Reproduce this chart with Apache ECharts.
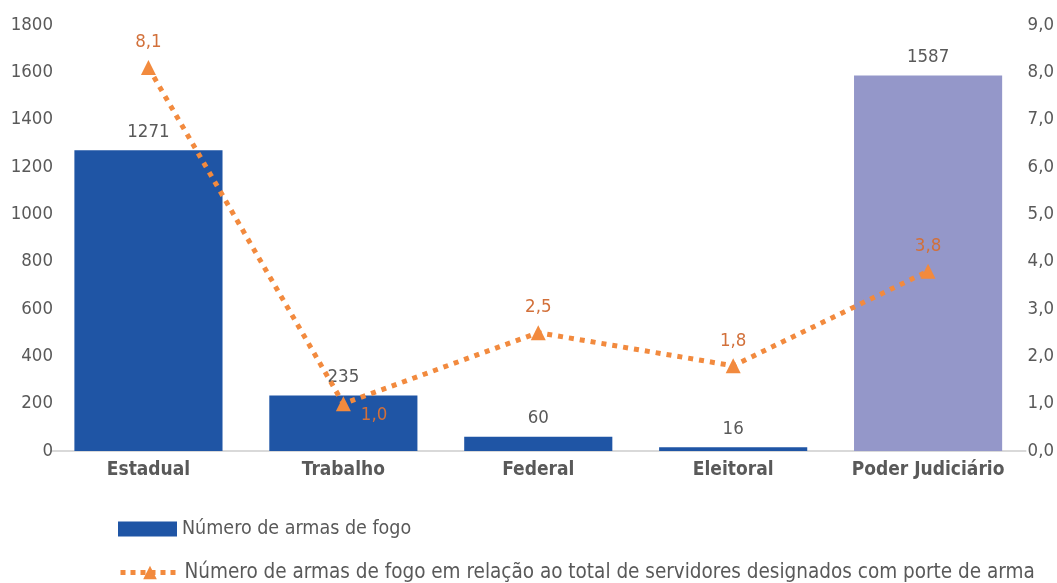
<!DOCTYPE html>
<html>
<head>
<meta charset="utf-8">
<script src="https://cdn.jsdelivr.net/npm/echarts@6/dist/echarts.min.js"></script>
<style>
html,body{margin:0;padding:0;background:#fff;}
#chart{width:1057px;height:583px;}
</style>
</head>
<body>
<div id="chart"></div>
<script>
const categories = ['Estadual', 'Trabalho', 'Federal', 'Eleitoral', 'Poder Judiciário'];
const armas = [1271, 235, 60, 16, 1587];
const relacao = [8.1, 1.0, 2.5, 1.8, 3.8];
const seriesNames = ['Número de armas de fogo', 'Número de armas de fogo em relação ao total de servidores designados com porte de arma'];

const FONT = '"Liberation Sans Narrow", "DejaVu Sans Condensed", "Liberation Sans", Arial, sans-serif';
const GRAY = '#595959';
const BLUE = '#1F55A5';
const PURPLE = '#9497C9';
const ORANGE = '#F28A3E';
const ORANGE_TXT = '#D2703A';

const fmtComma = v => Number(v).toFixed(1).replace('.', ',');

const barData = armas.map((v, i) => i === categories.length - 1
  ? { value: v, itemStyle: { color: PURPLE } }
  : v);

const lineData = relacao.map((v, i) => i === 1
  ? { value: v, label: { position: 'right', distance: 10, offset: [0, 12] } }
  : v);

const chart = echarts.init(document.getElementById('chart'), null, { renderer: 'canvas' });
chart.setOption({
  backgroundColor: '#fff',
  animation: false,
  textStyle: { fontFamily: FONT },
  grid: { left: 51, right: 31, top: 25, bottom: 132, containLabel: false },
  legend: [
    {
      data: [{ name: seriesNames[0], icon: 'rect' }],
      left: 118, top: 519, padding: 0,
      itemWidth: 59, itemHeight: 15, itemGap: 5,
      textStyle: { fontFamily: FONT, fontSize: 19.5, color: GRAY }
    },
    {
      data: [seriesNames[1]],
      left: 118, top: 562, padding: 0,
      itemWidth: 59, itemHeight: 17, itemGap: 4,
      lineStyle: { width: 5, type: [5, 5], cap: 'butt' },
      textStyle: { fontFamily: FONT, fontSize: 20.5, color: GRAY }
    }
  ],
  xAxis: {
    type: 'category',
    data: categories,
    axisLine: { lineStyle: { color: '#D9D9D9', width: 2 } },
    axisTick: { show: false },
    axisLabel: { interval: 0, fontFamily: FONT, fontSize: 19, fontWeight: 'bold', color: GRAY, margin: 10 }
  },
  yAxis: [
    {
      type: 'value', min: 0, max: 1800, interval: 200,
      splitLine: { show: false },
      axisLine: { show: false }, axisTick: { show: false },
      axisLabel: { fontFamily: FONT, fontSize: 18.5, color: GRAY, margin: -2, formatter: v => String(v) }
    },
    {
      type: 'value', min: 0, max: 9, interval: 1,
      splitLine: { show: false },
      axisLine: { show: false }, axisTick: { show: false },
      axisLabel: { fontFamily: FONT, fontSize: 18.5, color: GRAY, margin: 2, formatter: fmtComma }
    }
  ],
  series: [
    {
      name: seriesNames[0],
      type: 'bar',
      data: barData,
      yAxisIndex: 0,
      barCategoryGap: '24%',
      itemStyle: { color: BLUE },
      label: { show: true, position: 'top', distance: 9, fontFamily: FONT, fontSize: 18.5, color: GRAY }
    },
    {
      name: seriesNames[1],
      type: 'line',
      data: lineData,
      yAxisIndex: 1,
      z: 5,
      symbol: 'triangle',
      symbolSize: 15,
      itemStyle: { color: ORANGE },
      lineStyle: { color: ORANGE, width: 5, type: [5, 6], cap: 'butt' },
      label: { show: true, position: 'top', distance: 8, fontFamily: FONT, fontSize: 18.5, color: ORANGE_TXT, formatter: p => fmtComma(p.value) }
    }
  ]
});
</script>
</body>
</html>
